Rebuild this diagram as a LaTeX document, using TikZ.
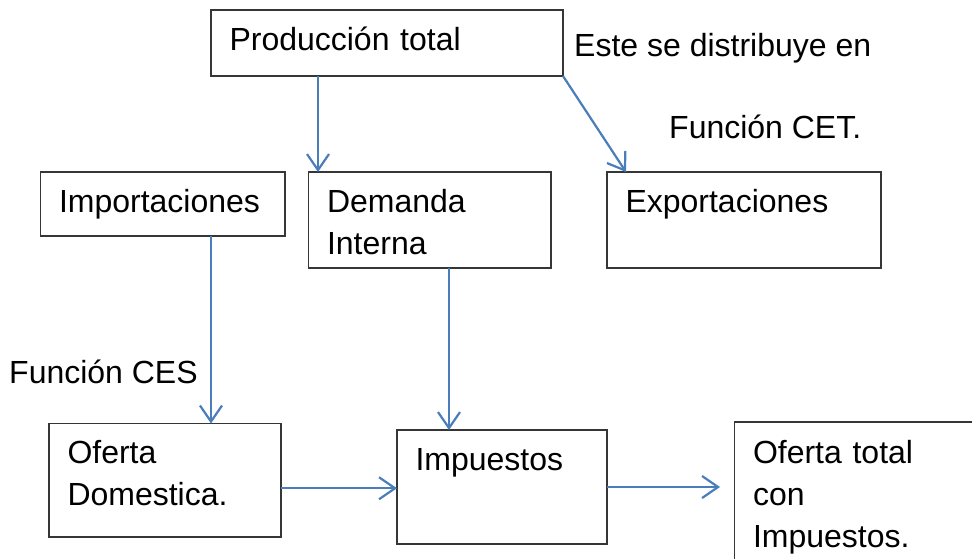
\documentclass[tikz,border=0pt]{standalone}
\usepackage{fontspec}
\setmainfont{Liberation Sans}
\usetikzlibrary{arrows.meta}
\definecolor{arrblue}{HTML}{4A7EBB}
\definecolor{boxgray}{HTML}{363636}
\tikzset{
 box/.style={draw=boxgray, line width=1.5pt, outer sep=0pt, anchor=north west,
   inner xsep=18.5pt, inner ysep=0pt, align=left, text height=40pt,
   font=\fontsize{32}{42}\selectfont},
 arr/.style={draw=arrblue, line width=2.2pt,
   -{Straight Barb[length=16pt,width=22pt,line width=2.2pt]}},
 lbl/.style={anchor=base west, inner sep=0pt, font=\fontsize{32}{42}\selectfont}
}
\begin{document}
\begin{tikzpicture}[x=1pt,y=-1pt]
\useasboundingbox (0,0) rectangle (972,558);
% boxes
\node[box, text width=315pt, text depth=26pt] (prod) at (211,10) {Producción total};
\node[box, text width=207.5pt, text depth=24pt] (imp) at (40.5,172) {Importaciones};
\node[box, text width=205.5pt, text depth=56pt] (dem) at (308.5,172) {Demanda\\Interna};
\node[box, text width=237pt, text depth=56pt] (exp) at (607,172) {Exportaciones};
\node[box, text width=195pt, text depth=73.5pt] (od) at (49,423.5) {Oferta\\Domestica.};
\node[box, text width=173pt, text depth=74pt] (tax) at (397,430) {Impuestos};
\node[box, text width=228.5pt, text height=41pt, text depth=137pt] (ot) at (734.5,422) {Oferta total\\con\\Impuestos.};
% free labels
\node[lbl] (este) at (574,56.7) {Este se distribuye en};
\node[lbl] (cet) at (669,138.3) {Función CET.};
\node[lbl] (ces) at (9,383.3) {Función CES};
% connectors
\draw[arr] ([xshift=107]prod.south west) -- ([xshift=9.5]dem.north west);
\draw[arr] (prod.south east) -- ([xshift=19]exp.north west);
\draw[arr] ([xshift=170.5]imp.south west) -- ([xshift=170.5]imp.south west |- od.north);
\draw[arr] ([xshift=140.5]dem.south west) -- ([xshift=140.5]dem.south west |- tax.north);
\draw[arr] ([yshift=-8]od.east) -- ([yshift=-8]od.east -| tax.west);
\draw[arr] (tax.east) -- ([xshift=-14.5]ot.west |- tax.east);
\end{tikzpicture}
\end{document}
